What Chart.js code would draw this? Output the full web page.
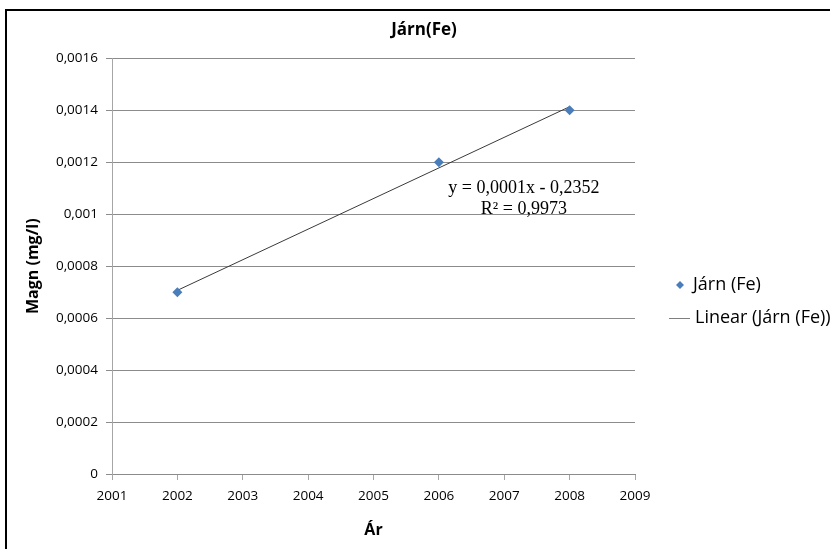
<!DOCTYPE html>
<html>
<head>
<meta charset="utf-8">
<script src="https://cdn.jsdelivr.net/npm/chart.js@4.4.1/dist/chart.umd.min.js"></script>
<style>
  body { margin: 0; background: #fff; }
  #wrap { position: relative; width: 830px; height: 549px; overflow: hidden; }
  #frame { position: absolute; left: 5px; top: 9px; width: 900px; height: 600px;
           border-left: 2px solid #000; border-top: 2px solid #000; pointer-events: none; }
</style>
</head>
<body>
<div id="wrap">
  <canvas id="chart" width="830" height="549"></canvas>
  <div id="frame"></div>
</div>
<script>
// mælingar
const years = [2002, 2006, 2008];
const iron = [0.0007, 0.0012, 0.0014];

// línuleg aðhvarfslína (lesið af myndinni)
const trendYears = [2002, 2008];
const trendValues = [0.000707, 0.001414];

const xTicks = [2001, 2002, 2003, 2004, 2005, 2006, 2007, 2008, 2009];
const xTickLabels = ['2001', '2002', '2003', '2004', '2005', '2006', '2007', '2008', '2009'];
const yTicks = [0, 0.0002, 0.0004, 0.0006, 0.0008, 0.001, 0.0012, 0.0014, 0.0016];
const yTickLabels = ['0', '0,0002', '0,0004', '0,0006', '0,0008', '0,001', '0,0012', '0,0014', '0,0016'];

const equation = ['y = 0,0001x - 0,2352', 'R² = 0,9973'];
const legendLabels = ['Járn (Fe)', 'Linear (Járn (Fe))'];

const pointColor = '#4a7ebb';
const trendColor = '#3a3a3a';
const gridColor = '#8c8c8c';
const axisColor = '#a6a6a6';
const sans = "'Open Sans', sans-serif";

// texti jöfnunnar og skýringar
const extrasPlugin = {
    id: 'extras',
    afterDraw(chart) {
        const ctx = chart.ctx;
        const x = chart.scales.x;
        const y = chart.scales.y;
        const area = chart.chartArea;

        ctx.save();
        ctx.fillStyle = '#000';
        ctx.font = "18px 'Liberation Serif', serif";
        ctx.textAlign = 'center';
        ctx.textBaseline = 'middle';
        ctx.fillText(equation[0], x.getPixelForValue(2007.3), y.getPixelForValue(0.001101));
        ctx.fillText(equation[1], x.getPixelForValue(2007.3), y.getPixelForValue(0.00102));

        // skýringar til hægri
        const lx = area.right;
        ctx.font = '18px ' + sans;
        ctx.textAlign = 'left';

        ctx.fillStyle = pointColor;
        ctx.beginPath();
        ctx.moveTo(lx + 45, 285 - 4);
        ctx.lineTo(lx + 49, 285);
        ctx.lineTo(lx + 45, 285 + 4);
        ctx.lineTo(lx + 41, 285);
        ctx.closePath();
        ctx.fill();
        ctx.fillStyle = '#000';
        ctx.fillText(legendLabels[0], lx + 58, 285);

        ctx.strokeStyle = '#7f7f7f';
        ctx.lineWidth = 1;
        ctx.beginPath();
        ctx.moveTo(lx + 34, 318.5);
        ctx.lineTo(lx + 55, 318.5);
        ctx.stroke();
        ctx.fillText(legendLabels[1], lx + 60, 318);
        ctx.restore();
    }
};

const ctx = document.getElementById('chart').getContext('2d');
new Chart(ctx, {
    type: 'scatter',
    data: {
        datasets: [{
            label: legendLabels[0],
            data: years.map((yr, i) => ({ x: yr, y: iron[i] })),
            pointStyle: 'rectRot',
            pointRadius: 5,
            backgroundColor: pointColor,
            borderColor: pointColor,
            borderWidth: 0
        }, {
            label: legendLabels[1],
            data: trendYears.map((yr, i) => ({ x: yr, y: trendValues[i] })),
            showLine: true,
            pointRadius: 0,
            borderColor: trendColor,
            borderWidth: 1
        }]
    },
    options: {
        responsive: false,
        animation: false,
        layout: { padding: { left: 18, right: 0, top: 0, bottom: 0 } },
        plugins: {
            legend: { display: false },
            tooltip: { enabled: false },
            title: {
                display: true,
                text: 'Járn(Fe)',
                color: '#000',
                font: { family: sans, size: 17, weight: 'bold' },
                padding: { top: 20, bottom: 18 }
            }
        },
        scales: {
            x: {
                type: 'linear',
                min: 2001,
                max: 2009,
                afterBuildTicks: s => { s.ticks = xTicks.map(v => ({ value: v })); },
                afterFit: s => { s.height = 75; },
                ticks: {
                    callback: (v, i) => xTickLabels[i],
                    color: '#000',
                    font: { family: sans, size: 13.5 },
                    padding: 8,
                    maxRotation: 0
                },
                grid: { drawOnChartArea: false, drawTicks: true, tickLength: 6, tickColor: axisColor },
                border: { color: gridColor },
                title: {
                    display: true,
                    text: 'Ár',
                    color: '#000',
                    font: { family: sans, size: 16, weight: 'bold' },
                    padding: { top: 0, bottom: 9 }
                }
            },
            y: {
                min: 0,
                max: 0.0016,
                afterBuildTicks: s => { s.ticks = yTicks.map(v => ({ value: v })); },
                afterFit: s => { s.width = 94; },
                ticks: {
                    callback: (v, i) => yTickLabels[i],
                    color: '#000',
                    font: { family: sans, size: 13.5 },
                    padding: 8
                },
                grid: { color: gridColor, tickLength: 6, tickColor: gridColor },
                border: { color: axisColor },
                title: {
                    display: true,
                    text: 'Magn (mg/l)',
                    color: '#000',
                    font: { family: sans, size: 16, weight: 'bold' },
                    padding: { top: 6, bottom: 0 }
                }
            },
            // tómur ás sem tekur pláss fyrir skýringarnar
            spacer: {
                type: 'linear',
                position: 'right',
                display: true,
                grid: { display: false },
                ticks: { display: false },
                border: { display: false },
                afterFit: s => { s.width = 195; }
            }
        }
    },
    plugins: [extrasPlugin]
});
</script>
</body>
</html>
